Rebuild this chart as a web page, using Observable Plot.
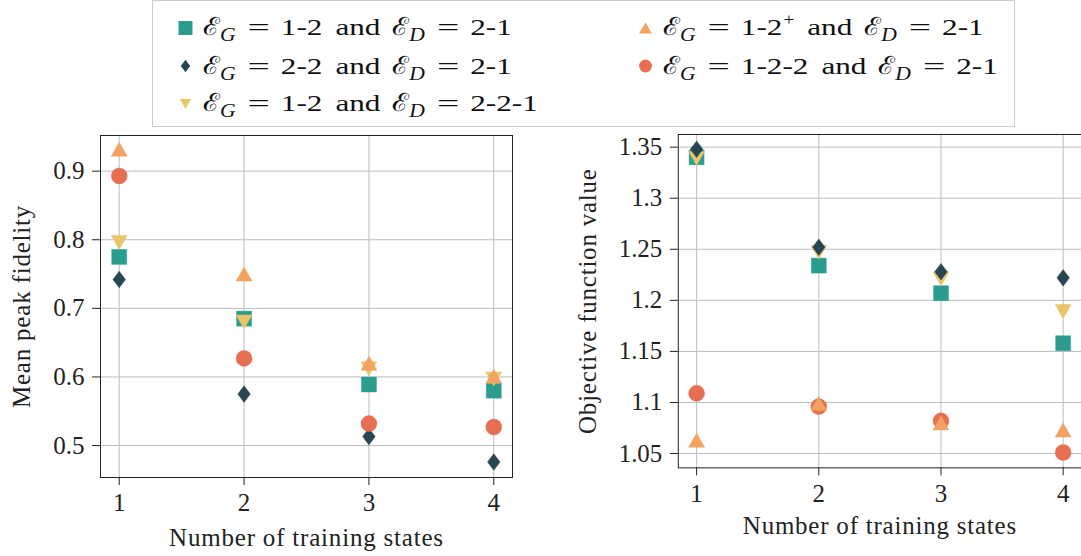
<!DOCTYPE html>
<html>
<head>
<meta charset="utf-8">
<script src="https://cdn.jsdelivr.net/npm/d3@7"></script>
<script src="https://cdn.jsdelivr.net/npm/@observablehq/plot@0.6"></script>
<style>
  html, body { margin: 0; padding: 0; background: #fff; }
  #root { position: relative; width: 1081px; height: 556px; overflow: hidden; font-family: "Liberation Serif", serif; color: #222; }
  #legend { position: absolute; left: 152px; top: 0px; }
  .panel { position: absolute; }
  g[aria-label$="axis label"] text { letter-spacing: 0.8px; }
</style>
</head>
<body>
<div id="root">
  <div id="left" class="panel" style="left:0px;top:125px"></div>
  <div id="right" class="panel" style="left:560px;top:124px"></div>
  <div id="legend"></div>
</div>
<script>
// ---------------- data ----------------
const trainingStates = [1, 2, 3, 4];
const xTicks = [1, 2, 3, 4];
const leftYTicks = [0.5, 0.6, 0.7, 0.8, 0.9];
const rightYTicks = [1.05, 1.1, 1.15, 1.2, 1.25, 1.3, 1.35];
const xLabel = "Number of training states";
const leftYLabel = "Mean peak fidelity";
const rightYLabel = "Objective function value";

// series legends (E_G and E_D)
const egValues = ["1-2", "2-2", "1-2", "1-2", "1-2-2"];
const egSup = ["", "", "", "+", ""];
const edValues = ["2-1", "2-1", "2-2-1", "2-1", "2-1"];
const seriesColors = ["#2a9d8f", "#264653", "#e9c46a", "#f4a261", "#e76f51"];
const seriesShapes = ["square", "diamond", "triangleDown", "triangleUp", "circle"];

// mean peak fidelity (left panel)
const fidelity12_21 = [0.775, 0.685, 0.589, 0.580];
const fidelity22_21 = [0.742, 0.575, 0.513, 0.476];
const fidelity12_221 = [0.796, 0.680, 0.612, 0.597];
const fidelity12p_21 = [0.932, 0.750, 0.620, 0.601];
const fidelity122_21 = [0.893, 0.627, 0.532, 0.527];

// objective function value (right panel)
const objective12_21 = [1.340, 1.234, 1.207, 1.158];
const objective22_21 = [1.348, 1.252, 1.228, 1.222];
const objective12_221 = [1.339, 1.247, 1.221, 1.189];
const objective12p_21 = [1.063, 1.099, 1.080, 1.073];
const objective122_21 = [1.109, 1.096, 1.082, 1.051];

const fidelitySeries = [fidelity12_21, fidelity22_21, fidelity12_221, fidelity12p_21, fidelity122_21];
const objectiveSeries = [objective12_21, objective22_21, objective12_221, objective12p_21, objective122_21];

// draw order (z-order as seen in the picture)
const drawOrder = [0, 2, 1, 4, 3];

// ---------------- symbols ----------------
function makeSymbol(shape, s) {
  return {
    draw(ctx) {
      if (shape === "square") {
        const h = 7.5 * s;
        ctx.moveTo(-h, -h); ctx.lineTo(h, -h); ctx.lineTo(h, h); ctx.lineTo(-h, h); ctx.closePath();
      } else if (shape === "circle") {
        const r = 8 * s;
        ctx.moveTo(r, 0); ctx.arc(0, 0, r, 0, 2 * Math.PI); ctx.closePath();
      } else if (shape === "diamond") {
        const w = 6.3 * s, h = 8.3 * s;
        ctx.moveTo(0, -h); ctx.lineTo(w, 0); ctx.lineTo(0, h); ctx.lineTo(-w, 0); ctx.closePath();
      } else if (shape === "triangleUp") {
        const w = 8 * s, h = 7 * s;
        ctx.moveTo(0, -h); ctx.lineTo(w, h); ctx.lineTo(-w, h); ctx.closePath();
      } else if (shape === "triangleDown") {
        const w = 8 * s, h = 7 * s;
        ctx.moveTo(0, h); ctx.lineTo(w, -h); ctx.lineTo(-w, -h); ctx.closePath();
      }
    }
  };
}

// ---------------- panels ----------------
const gridStyle = {stroke: "#bdbdbd", strokeOpacity: 1, strokeWidth: 1};
const fmt = d => String(+(+d).toFixed(2));

function panel({series, yDomain, yTicks, yLabel, width, height, marginLeft, marginRight, marginTop, marginBottom, yLabelOffset, xLabelOffset}) {
  const dots = drawOrder.map(i => {
    const rows = trainingStates.map((n, j) => ({n, v: series[i][j]}));
    return Plot.dot(rows, {
      x: "n", y: "v",
      symbol: makeSymbol(seriesShapes[i], 1),
      r: 8,
      fill: seriesColors[i],
      stroke: seriesColors[i],
      strokeOpacity: 0.45,
      strokeWidth: 1
    });
  });
  return Plot.plot({
    width, height, marginLeft, marginRight, marginTop, marginBottom,
    style: {fontFamily: "'Liberation Serif', serif", fontSize: "25px", color: "#222", background: "transparent", overflow: "visible"},
    x: {domain: [0.85, 4.15]},
    y: {domain: yDomain},
    marks: [
      Plot.gridX(xTicks, gridStyle),
      Plot.gridY(yTicks, gridStyle),
      Plot.axisX(xTicks, {
        tickSize: 8, tickPadding: 8, tickFormat: d => String(d), stroke: "#222",
        fontSize: 25, label: xLabel, labelAnchor: "center", labelOffset: xLabelOffset, labelArrow: "none"
      }),
      Plot.axisY(yTicks, {
        tickSize: 8, tickPadding: 8, tickFormat: fmt, stroke: "#222",
        fontSize: 25, label: yLabel, labelAnchor: "center", labelOffset: yLabelOffset, labelArrow: "none"
      }),
      ...dots,
      Plot.frame({stroke: "#222", strokeWidth: 1})
    ]
  });
}

const leftPlot = panel({
  series: fidelitySeries, yDomain: [0.4534, 0.952], yTicks: leftYTicks, yLabel: leftYLabel,
  width: 520, height: 431, marginLeft: 100, marginRight: 8, marginTop: 10, marginBottom: 79,
  yLabelOffset: 88, xLabelOffset: 68
});
const rightPlot = panel({
  series: objectiveSeries, yDomain: [1.036, 1.3624], yTicks: rightYTicks, yLabel: rightYLabel,
  width: 522, height: 432, marginLeft: 118, marginRight: 0, marginTop: 10, marginBottom: 88,
  yLabelOffset: 100, xLabelOffset: 66
});
document.getElementById("left").appendChild(leftPlot);
document.getElementById("right").appendChild(rightPlot);

// ---------------- legend (SVG) ----------------
const LW = 863, LH = 127;
const lsvg = d3.create("svg").attr("width", LW).attr("height", LH).style("display", "block");
document.getElementById("legend").appendChild(lsvg.node());
lsvg.append("rect").attr("x", 0.5).attr("y", 0.5).attr("width", LW - 1).attr("height", LH - 1)
  .attr("fill", "#fff").attr("stroke", "#cccccc").attr("stroke-width", 1);

const legendMarkerScale = [0.93, 0.75, 0.7, 0.8, 0.8];
const legendPos = [
  {mx: 33.5, tx: 51, y: 28, base: 35},
  {mx: 33.5, tx: 51, y: 66, base: 73.5},
  {mx: 33.5, tx: 51, y: 104, base: 111},
  {mx: 493.5, tx: 511, y: 28, base: 35},
  {mx: 493.5, tx: 511, y: 66, base: 73.5}
];
const serif = "'Liberation Serif', serif";
const calFont = "'DejaVu Serif', serif";

seriesColors.forEach((c, i) => {
  const p = legendPos[i];
  const path = d3.path();
  makeSymbol(seriesShapes[i], legendMarkerScale[i]).draw(path);
  lsvg.append("path").attr("transform", `translate(${p.mx},${p.y})`).attr("d", path.toString()).attr("fill", c);

  const g = lsvg.append("g").attr("transform", `translate(${p.tx},${p.base})`).attr("fill", "#111");
  let cursor = 0;
  function piece(t, {font = serif, size = 24, style = "normal", dy = 0, sx = 1.3, gap = 0} = {}) {
    cursor += gap;
    const el = g.append("text").attr("font-family", font).attr("font-size", size)
      .attr("font-style", style).attr("transform", `translate(${cursor},${dy}) scale(${sx},1)`).text(t);
    cursor += el.node().getComputedTextLength() * sx;
  }
  piece("ℰ", {font: calFont, size: 25, sx: 1.12});
  piece("G", {style: "italic", size: 18, dy: 6, sx: 1.2, gap: 0});
  piece("=", {sx: 1.65, gap: 12});
  piece(egValues[i], {gap: 11});
  if (egSup[i]) piece(egSup[i], {size: 16, dy: -10, sx: 1.2, gap: 1});
  piece("and", {gap: 13});
  piece("ℰ", {font: calFont, size: 25, sx: 1.12, gap: 12});
  piece("D", {style: "italic", size: 18, dy: 6, sx: 1.2});
  piece("=", {sx: 1.65, gap: 12});
  piece(edValues[i], {gap: 11});
});
</script>
</body>
</html>
